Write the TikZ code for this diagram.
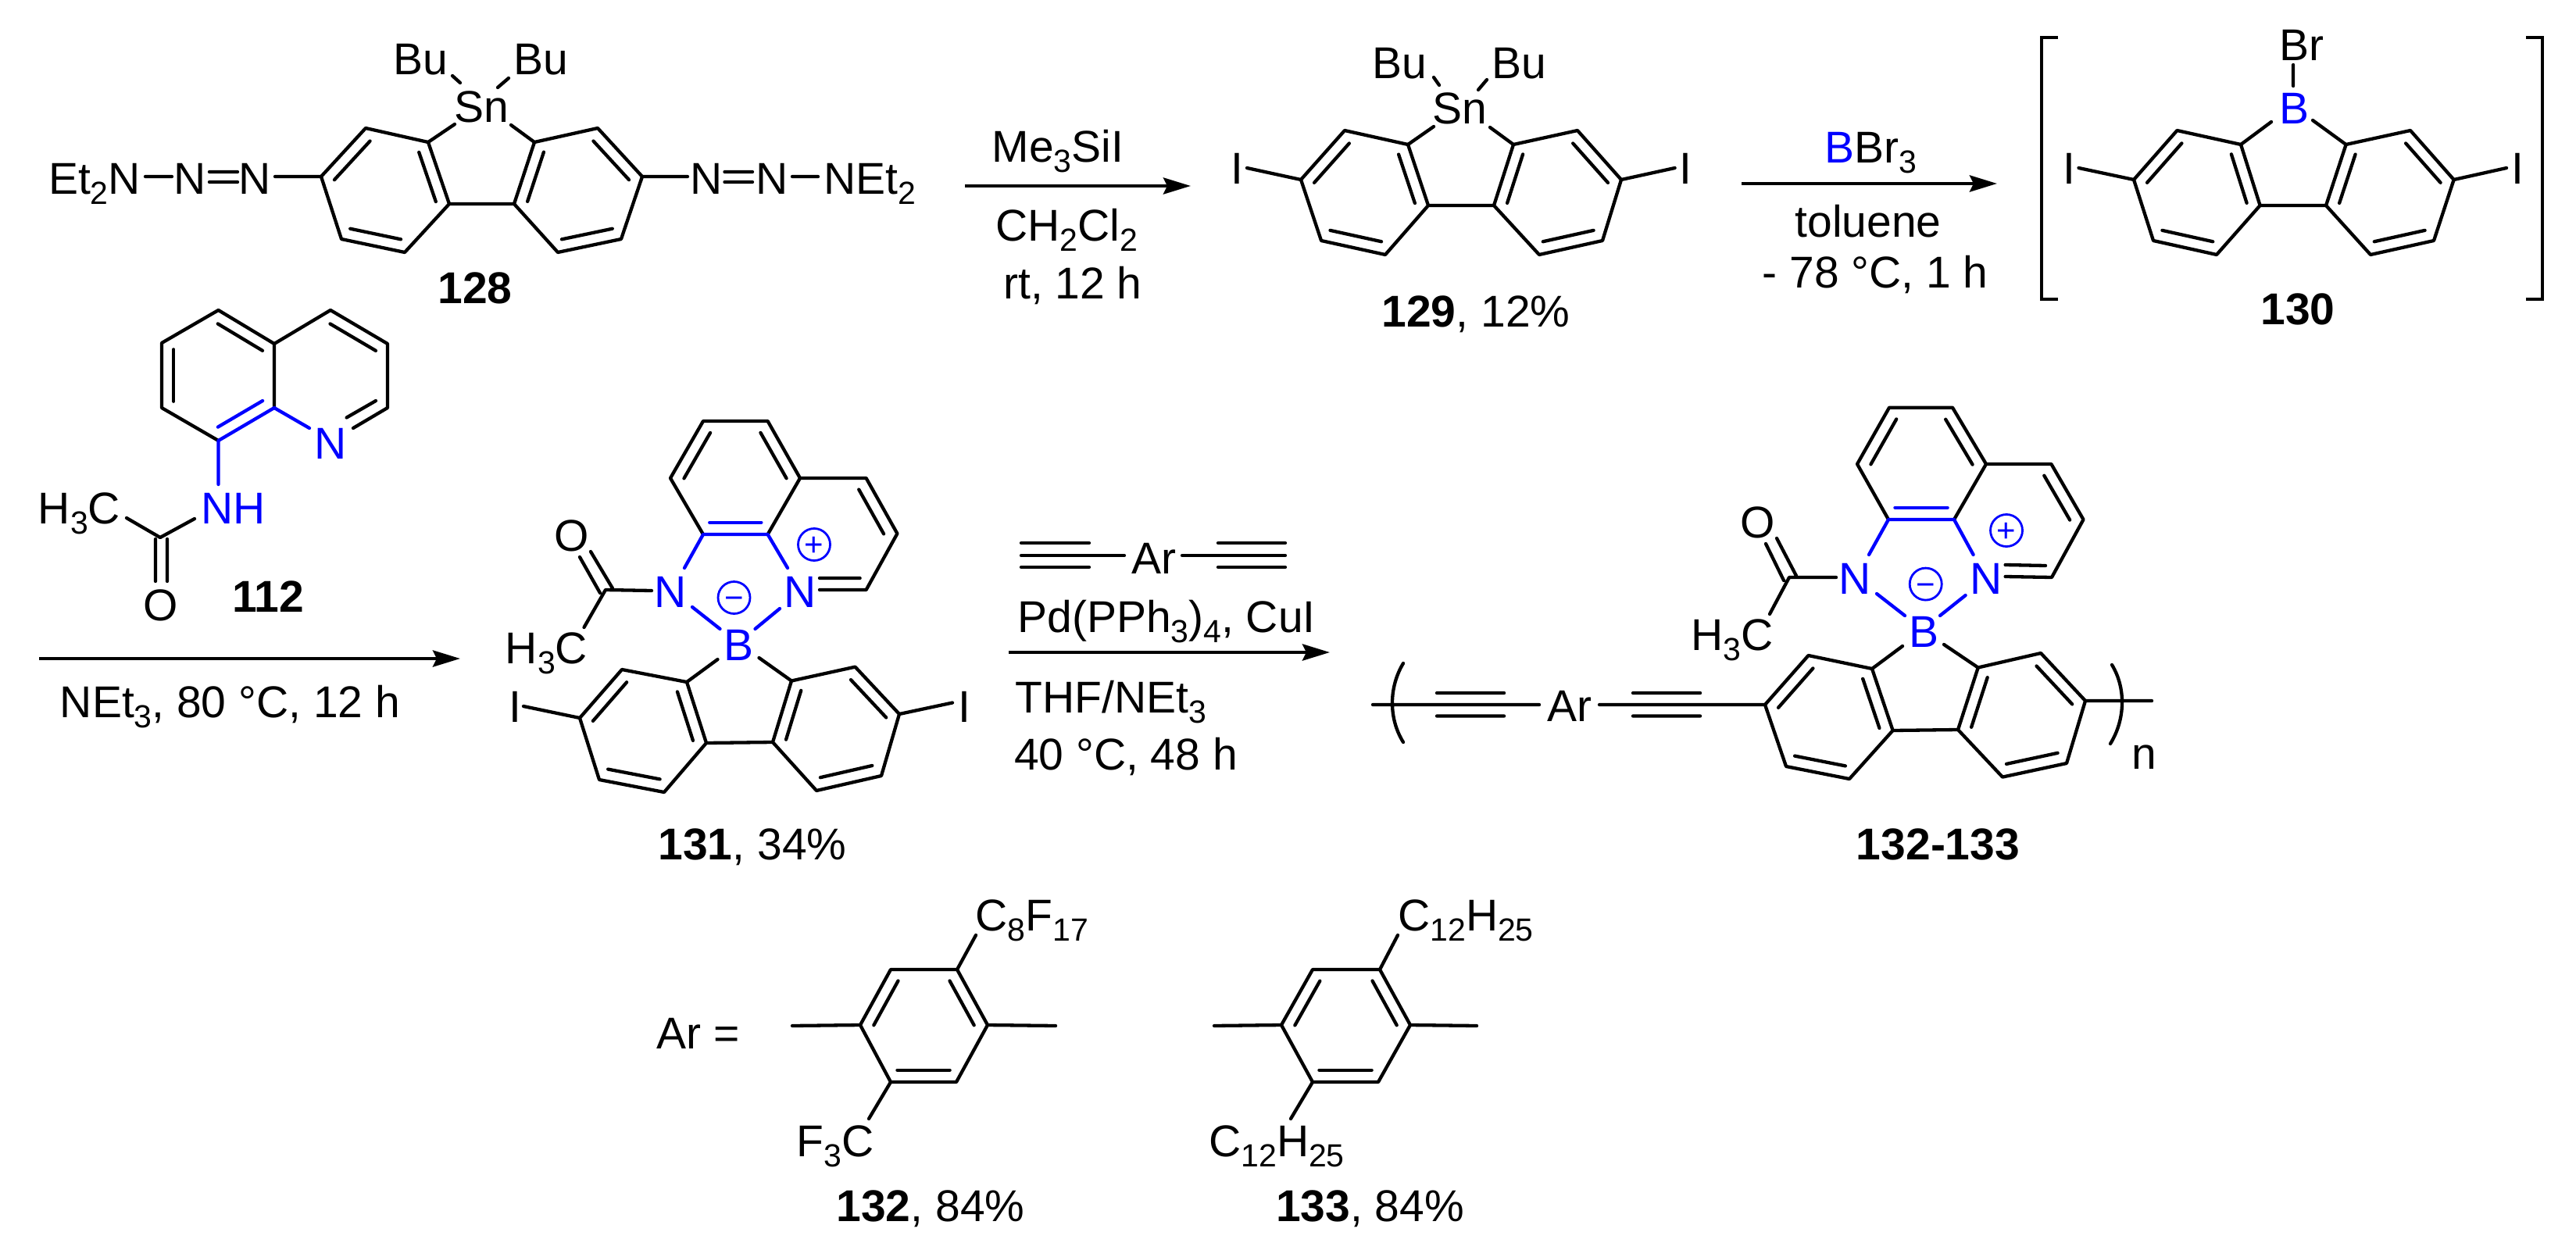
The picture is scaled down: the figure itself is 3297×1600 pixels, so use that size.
\documentclass[tikz,border=0pt]{standalone}
\usepackage{fontspec}
\setmainfont{Liberation Sans}
\usetikzlibrary{calc,arrows.meta}
\definecolor{hetblue}{rgb}{0,0,1}
\newcommand\Fnt{\fontsize{57}{60}\selectfont}
\newcommand\subs[1]{\raisebox{-13pt}{\fontsize{41}{41}\selectfont #1}}
\newcommand\pts[2]{\foreach \n/\px/\py in {#2}{\coordinate (#1\n) at (\px,\py);}}
\def\dsep{15.3pt}
\newcommand\dbl[4][bond]{\draw[#1] ($(#2)!.10!(#3)!\dsep!#4:(#3)$) -- ($(#2)!.90!(#3)!\dsep!#4:(#3)$);}
\newcommand\fluor[1]{%
  \draw[bond] (#1L1)--(#1L2)--(#1L3)--(#1L4)--(#1L5)--(#1L6)--cycle
              (#1R1)--(#1R2)--(#1R3)--(#1R4)--(#1R5)--(#1R6)--cycle
              (#1L6)--(#1R6);
  \dbl{#1L2}{#1L3}{90}\dbl{#1L4}{#1L5}{90}\dbl{#1L6}{#1L1}{90}
  \dbl{#1R2}{#1R3}{-90}\dbl{#1R4}{#1R5}{-90}\dbl{#1R6}{#1R1}{-90}}
% acylated quinolinyl-boron chelate; nodes pNm pNp pB pC pO pMe and coordinates pA1.. pB3
\newcommand\chelate[1]{%
  \draw[bond] (#1A5)--(#1A6)--(#1A1)--(#1A2)--(#1A3)--(#1A4)
              (#1A3)--(#1B1)--(#1B2)--(#1B3)--($(#1Np)+(25,-2)$)
              ($(#1Np)+(25,-17)$)--($(#1B3)+(-8,-15)$);
  \dbl{#1A6}{#1A1}{-90}\dbl{#1A2}{#1A3}{-90}\dbl{#1B1}{#1B2}{-90}
  \draw[bbond] (#1A4)--(#1A5) (#1A5)--($(#1Nm)+(18,-30)$) (#1A4)--($(#1Np)+(-16,-30)$)
      ($(#1Nm)+(28,20)$)--($(#1B)+(-24,-20)$) ($(#1Np)+(-26,22)$)--($(#1B)+(21,-20)$);
  \dbl[bbond]{#1A4}{#1A5}{-90}
  \draw[bond] ($(#1B)+(-27,19)$)--(#1L1) ($(#1B)+(26,17)$)--(#1R1)
      ($(#1Nm)+(-24,-1)$)--(#1C)--($(#1Me)+(48,-26)$)
      ($(#1O)+(10,28)$)--($(#1C)+(-7,4)$) ($(#1O)+(24,21)$)--($(#1C)+(9,-2)$);}
\tikzset{
  bond/.style={line width=4.3pt,line cap=round,line join=round},
  bbond/.style={bond,draw=hetblue},
  lab/.style={font=\Fnt,inner sep=0pt,text height=41pt,text depth=0pt},
  blab/.style={lab,text=hetblue},
  chargec/.style={circle,draw=hetblue,line width=2.8pt,minimum size=41pt,inner sep=0pt,
     text=hetblue,font=\fontsize{42}{42}\selectfont,text height=0pt,text depth=0pt},
  rxn/.style={line width=4.5pt,-{Stealth[length=35pt,width=21pt,inset=5pt]}}
}
\begin{document}
\begin{tikzpicture}[x=1pt,y=-1pt]
\useasboundingbox (0,0) rectangle (3297,1600);
%%%%% 128
\pts{a}{L1/548/182,L2/468/164,L3/411/226,L4/437/306,L5/518/323,L6/575/261,R1/684/182,R2/765/164,R3/822/226,R4/795/306,R5/714/323,R6/658/261}
\node[lab] (aSn) at (616,136) {Sn};
\node[lab] (aBu1) at (538,75) {Bu};
\node[lab] (aBu2) at (692,75) {Bu};
\node[lab] (aEN) at (121,228) {Et\subs{2}N};
\node[lab] (aN2) at (243,228) {N};
\node[lab] (aN3) at (326,228) {N};
\node[lab] (aN4) at (904,228) {N};
\node[lab] (aN5) at (988,228) {N};
\node[lab] (aNE) at (1113.5,228) {NEt\subs{2}};
\node[lab] (aT) at (608,368) {\textbf{128}};
\fluor{a}
\draw[bond] ($(aSn)+(-34,23)$)--(aL1) ($(aSn)+(38,24)$)--(aR1)
  ($(aBu1)+(41,22)$)--($(aSn)+(-27,-30)$) ($(aBu2)+(-41,25)$)--($(aSn)+(21,-24)$)
  ($(aEN)+(65,-2)$)--($(aN2)+(-23,-2)$)
  ($(aN2)+(25,-8)$)--($(aN3)+(-22,-8)$) ($(aN2)+(25,5)$)--($(aN3)+(-22,5)$)
  ($(aN3)+(26,-2)$)--(aL3)
  (aR3)--($(aN4)+(-24,-2)$)
  ($(aN4)+(23.5,-8)$)--($(aN5)+(-25,-8)$) ($(aN4)+(23.5,5)$)--($(aN5)+(-25,5)$)
  ($(aN5)+(26,-2)$)--($(aNE)+(-66.5,-2)$);
%%%%% arrow 1
\coordinate (r1s) at (1235,238); \coordinate (r1e) at (1524,238);
\draw[rxn] (r1s)--(r1e);
\node[lab] (r1a) at (1354,187) {Me\subs{3}SiI};
\node[lab] (r1b) at (1365,288) {CH\subs{2}Cl\subs{2}};
\node[lab] (r1c) at (1373,362) {rt, 12 h};
%%%%% 129
\pts{b}{L1/1802/185,L2/1721/167,L3/1665/230,L4/1691/308,L5/1773/326,L6/1828/263,R1/1937/185,R2/2019/167,R3/2075/230,R4/2051/308,R5/1970/326,R6/1912/263}
\node[lab] (bSn) at (1868.5,138) {Sn};
\node[lab] (bBu1) at (1791,80) {Bu};
\node[lab] (bBu2) at (1944,80) {Bu};
\node[lab] (bI1) at (1583,215) {I};
\node[lab] (bI2) at (2157.6,215) {I};
\node[lab] (bT) at (1889,398) {\textbf{129}, 12\%};
\fluor{b}
\draw[bond] ($(bSn)+(-33.5,24)$)--(bL1) ($(bSn)+(38.5,25)$)--(bR1)
  ($(bBu1)+(44,19)$)--($(bSn)+(-26.5,-29)$) ($(bBu2)+(-41,22)$)--($(bSn)+(23.5,-23)$)
  ($(bI1)+(13,0)$)--(bL3) ($(bI2)+(-14,0)$)--(bR3);
%%%%% arrow 2
\coordinate (r2s) at (2229,235); \coordinate (r2e) at (2556,235);
\draw[rxn] (r2s)--(r2e);
\node[lab] (r2a) at (2394,188) {\textcolor{hetblue}{B}Br\subs{3}};
\node[lab] (r2b) at (2391,283) {toluene};
\node[lab] (r2c) at (2400,348) {- 78 °C, 1 h};
%%%%% 130
\pts{c}{L1/2868/185,L2/2786.4/167,L3/2731/230,L4/2756/308,L5/2837/326,L6/2892.6/263,R1/3002.6/185,R2/3085/167,R3/3140.6/230,R4/3115/308,R5/3034/326,R6/2977/263}
\node[blab] (cB) at (2936,138) {B};
\node[lab] (cBr) at (2946,57) {Br};
\node[lab] (cI1) at (2648,215) {I};
\node[lab] (cI2) at (3222,215) {I};
\node[lab] (cT) at (2941,395) {\textbf{130}};
\fluor{c}
\draw[bond] ($(cB)+(-29,18)$)--(cL1) ($(cB)+(24,16)$)--(cR1)
  ($(cBr)+(-11,26)$)--($(cB)+(-1,-28)$)
  ($(cI1)+(12.5,0)$)--(cL3) ($(cI2)+(-14,0)$)--(cR3);
\coordinate (bl1) at (2634,48); \coordinate (bl2) at (2613,48); \coordinate (bl3) at (2613,383); \coordinate (bl4) at (2634,383);
\coordinate (br1) at (3233,48); \coordinate (br2) at (3254,48); \coordinate (br3) at (3254,383); \coordinate (br4) at (3233,383);
\draw[line width=4pt] (bl1)--(bl2)--(bl3)--(bl4) (br1)--(br2)--(br3)--(br4);
%%%%% 112
\pts{q}{a/207/439,b/279.5/397,c/351/440,d/423/397,e/496/440,f/496/522,g/351/522,h/279.5/564,i/207/522,k/205/688}
\node[blab] (qN) at (423,566.5) {N};
\node[blab] (qNH) at (299,650) {NH};
\node[lab] (qMe) at (101.5,650) {H\subs{3}C};
\node[lab] (qO) at (206,774) {O};
\node[lab] (qT) at (343,763) {\textbf{112}};
\draw[bond] (qg)--(qc)--(qb)--(qa)--(qi)--(qh) (qc)--(qd)--(qe)--(qf)--($(qN)+(29,-18.5)$)
  ($(qf)+(-15,-9)$)--($(qN)+(20.6,-32)$)
  ($(qNH)+(-50,14)$)--(qk)--($(qMe)+(60.5,13)$)
  ($(qk)+(-6,2)$)--($(qO)+(-7,-30)$) ($(qk)+(9,2)$)--($(qO)+(8,-30)$);
\dbl{qa}{qi}{90}\dbl{qb}{qc}{-90}\dbl{qd}{qe}{-90}
\draw[bbond] (qh)--(qg)--($(qN)+(-27,-18.5)$) (qh)--($(qNH)+(-19.5,-30)$);
\dbl[bbond]{qg}{qh}{-90}
%%%%% arrow 3
\coordinate (r3s) at (50,843); \coordinate (r3e) at (589,843);
\draw[rxn] (r3s)--(r3e);
\node[lab] (r3a) at (294.5,898) {NEt\subs{3}, 80 °C, 12 h};
%%%%% 131
\pts{d}{A1/900/539,A2/982.6/539,A3/1024/612,A4/982.6/684,A5/900/684,A6/858/612,B1/1108.6/612,B2/1148.4/683,B3/1108.6/755,C/775/755,L1/879/873,L2/796/857,L3/742/919,L4/767/998,L5/850/1014,L6/904/951,R1/1013/871.5,R2/1094.5/853.6,R3/1151/914,R4/1128/993,R5/1045/1012,R6/989/950}
\node[blab] (dNm) at (858,757) {N};
\node[blab] (dNp) at (1024,757) {N};
\node[blab] (dB) at (945.5,825) {B};
\node[lab] (dO) at (732,685) {O};
\node[lab] (dMe) at (699.5,829) {H\subs{3}C};
\node[lab] (dI1) at (659,904) {I};
\node[lab] (dI2) at (1234,904) {I};
\node[lab] (dT) at (963,1080) {\textbf{131}, 34\%};
\node[chargec] (dPl) at (1042,697) {\raisebox{-.345em}{+}};
\node[chargec] (dMi) at (939.5,765) {\raisebox{-.345em}{−}};
\fluor{d}\chelate{d}
\draw[bond] ($(dI1)+(11,0)$)--(dL3) ($(dI2)+(-15,-4.5)$)--(dR3);
%%%%% arrow 4 and reagents
\coordinate (r4s) at (1291,835); \coordinate (r4e) at (1702,835);
\draw[rxn] (r4s)--(r4e);
\node[lab] (r4Ar) at (1476.5,713.5) {Ar};
\node[lab] (r4b) at (1493,789) {Pd(PPh\subs{3})\subs{4}, CuI};
\node[lab] (r4c) at (1422,892) {THF/NEt\subs{3}};
\node[lab] (r4d) at (1441,965) {40 °C, 48 h};
\pts{t}{m1/1307/711,o1a/1307/695,o1b/1394/695,u1a/1307/726,u1b/1394/726,m2/1645/711,o2a/1559/695,o2b/1645/695,u2a/1559/726,u2b/1645/726}
\draw[bond] (tm1)--($(r4Ar)+(-37.5,-2.5)$) (tm2)--($(r4Ar)+(36.5,-2.5)$)
  (to1a)--(to1b) (tu1a)--(tu1b) (to2a)--(to2b) (tu2a)--(tu2b);
%%%%% 132-133
\pts{e}{A1/2418/521.7,A2/2499/521.7,A3/2542/594,A4/2501/665,A5/2417/665,A6/2377/594,B1/2625.4/594,B2/2666.5/665,B3/2626/739,C/2290/739,L1/2396/856,L2/2314.5/839,L3/2259/902,L4/2286/981,L5/2367/997,L6/2422.6/935,R1/2531.7/854.5,R2/2612/836,R3/2669/897,R4/2645/977,R5/2563/994.6,R6/2506/934}
\node[blab] (eNm) at (2374,740) {N};
\node[blab] (eNp) at (2541.6,740) {N};
\node[blab] (eB) at (2462,808) {B};
\node[lab] (eO) at (2250,668) {O};
\node[lab] (eMe) at (2217,812) {H\subs{3}C};
\node[lab] (eAr) at (2008.5,903) {Ar};
\node[lab] (eT) at (2480.5,1080) {\textbf{132-133}};
\node[font=\Fnt,inner sep=0pt,anchor=base] (en) at (2744,984) {n};
\node[chargec] (ePl) at (2568,679) {\raisebox{-.345em}{+}};
\node[chargec] (eMi) at (2464.7,747.6) {\raisebox{-.345em}{−}};
\fluor{e}\chelate{e}
\pts{u}{s/1757/902,o1a/1839/887,o1b/1925/887,u1a/1839/916.5,u1b/1925/916.5,o2a/2090/887,o2b/2176/887,u2a/2090/916.5,u2b/2176/916.5,p1/1796/849,p2/1796/950,c1/1777.3/880,c2/1777.3/920,q1/2703/851,q2/2701/952,d1/2720.7/880,d2/2720.7/920,e/2754/897}
\draw[bond] (us)--($(eAr)+(-38.5,-1)$) ($(eAr)+(38.5,-1)$)--(eL3)
  (uo1a)--(uo1b) (uu1a)--(uu1b) (uo2a)--(uo2b) (uu2a)--(uu2b)
  (eR3)--(ue)
  (up1) .. controls (uc1) and (uc2) .. (up2)
  (uq1) .. controls (ud1) and (ud2) .. (uq2);
%%%%% Ar definitions
\node[lab] (fAr) at (894,1322) {Ar =};
\pts{p}{1/1140/1241,2/1225/1241,3/1264/1312,4/1224/1385,5/1140/1385,6/1101/1312,l/1014/1313,r/1351/1313}
\node[lab] (pTop) at (1321,1171) {C\subs{8}F\subs{17}};
\node[lab] (pBot) at (1069,1460) {F\subs{3}C};
\node[lab] (pT) at (1191,1543) {\textbf{132}, 84\%};
\draw[bond] (p1)--(p2)--(p3)--(p4)--(p5)--(p6)--cycle (p6)--(pl) (p3)--(pr)
  (p2)--($(pTop)+(-72,26)$) (p5)--($(pBot)+(43,-28)$);
\dbl{p2}{p3}{-90}\dbl{p4}{p5}{-90}\dbl{p6}{p1}{-90}
\pts{h}{1/1680/1241,2/1766/1241,3/1805/1312,4/1764/1385,5/1680/1385,6/1640/1312,l/1554/1313,r/1890/1313}
\node[lab] (hTop) at (1876,1171) {C\subs{12}H\subs{25}};
\node[lab] (hBot) at (1634,1460) {C\subs{12}H\subs{25}};
\node[lab] (hT) at (1753.5,1543) {\textbf{133}, 84\%};
\draw[bond] (h1)--(h2)--(h3)--(h4)--(h5)--(h6)--cycle (h6)--(hl) (h3)--(hr)
  (h2)--($(hTop)+(-87,26)$) (h5)--($(hBot)+(18,-28)$);
\dbl{h2}{h3}{-90}\dbl{h4}{h5}{-90}\dbl{h6}{h1}{-90}
\end{tikzpicture}
\end{document}
